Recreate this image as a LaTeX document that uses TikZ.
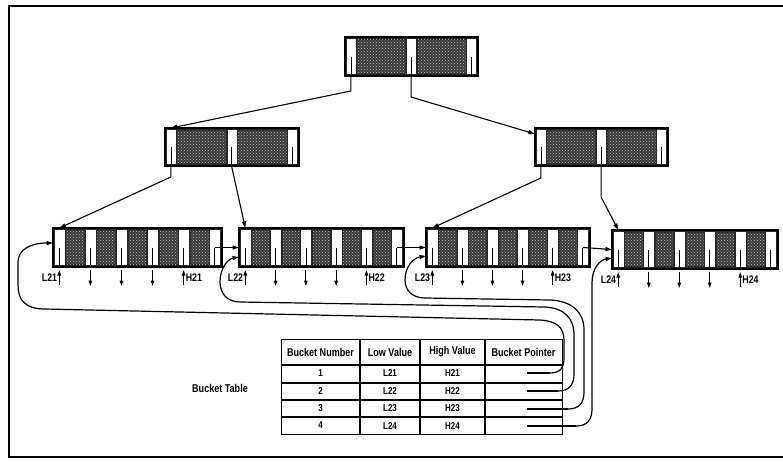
\documentclass[tikz,border=0pt]{standalone}
\usepackage{fontspec}
\newfontfamily\cf[FakeStretch=0.8]{Liberation Sans}
\usetikzlibrary{arrows.meta,patterns}

\tikzset{
  boxframe/.style={draw=black, fill=black!85, line width=1.4pt, inner sep=0pt, outer sep=0pt},
  slotfill/.style={fill=white},
  cellfill/.style={fill=black!78, postaction={pattern=crosshatch dots, pattern color=white!75!black}},
  conn/.style={line width=1.1pt, -{Triangle[length=6.5pt,width=4pt]}},
  curv/.style={line width=1.2pt, -{Triangle[length=6.5pt,width=4pt]}},
  smallar/.style={line width=1pt, -{Triangle[length=5.5pt,width=3.5pt]}},
  lbl/.style={font=\cf\bfseries\fontsize{11}{12}\selectfont, inner sep=0.5pt},
  ttxt/.style={font=\cf\bfseries\fontsize{10}{11}\selectfont, inner sep=0pt},
  hdr/.style={font=\cf\bfseries\fontsize{11.3}{12}\selectfont, inner sep=0pt},
  ptrline/.style={line width=1.4pt},
}

\newcommand\bbox[7]{%
  \pgfmathsetmacro\bbc{(#4-3.6-(#6+1)*#7-3.2*#6)/#6}%
  \pgfmathsetmacro\bbper{#7+3.2+\bbc}%
  \node[boxframe, minimum width=#4pt, minimum height=#5pt, anchor=north west] (#1) at (#2,-#3) {};
  \foreach \i in {0,...,#6}{%
    \pgfmathsetmacro\bbsx{#2+1.8+\i*\bbper}%
    \fill[slotfill] (\bbsx,-#3-1.8) rectangle (\bbsx+#7,-#3-#5+1.8);
    \draw[line width=0.6pt] (\bbsx+0.45*#7,-#3-0.5*#5) -- (\bbsx+0.45*#7,-#3-#5+1.8);
    \coordinate (#1-p\i) at (\bbsx+0.45*#7,-#3-#5);
    \coordinate (#1-t\i) at (\bbsx+0.45*#7,-#3);
    \coordinate (#1-m\i) at (\bbsx+0.5*#7,-#3-0.5*#5);
  }%
  \foreach \i in {1,...,#6}{%
    \pgfmathsetmacro\bbcx{#2+1.8+(\i-1)*\bbper+#7+1.6}%
    \fill[cellfill] (\bbcx,-#3-2.6) rectangle (\bbcx+\bbc,-#3-#5+2.6);
  }%
}

\begin{document}
\begin{tikzpicture}[x=1pt,y=1pt]
\useasboundingbox (0,0) rectangle (783,-461);
% frame
\draw[line width=2pt] (783,-6) -- (9,-6) -- (9,-457) -- (783,-457);

% boxes
\bbox{root}{345}{37}{133}{39}{2}{9}
\bbox{midL}{165}{128}{134}{38}{2}{9}
\bbox{midR}{535}{128}{133}{38}{2}{9}
\bbox{leafA}{53}{228}{169}{39}{5}{10}
\bbox{leafB}{239}{228}{165}{39}{5}{10}
\bbox{leafC}{426}{228}{164}{39}{5}{10}
\bbox{leafD}{612}{230}{166}{39}{5}{10}

\coordinate (midRin) at (535,-134);

% tree connectors
\draw[conn] (root-p0) -- ++(0,-15) -- (midL-t0);
\draw[conn] (root-p1) -- ++(0,-21) -- (midRin);
\draw[conn] (midL-p0) -- ++(0,-11) -- (leafA-t0);
\draw[conn] (midL-p1) -- (leafB-t0);
\draw[conn] (midR-p0) -- ++(0,-12) -- (leafC-t0);
\draw[conn] (midR-p1) -- ++(0,-31) -- (leafD-t0);

% leaf links
\draw[conn] (leafA-m5) -- (leafB.west);
\draw[conn] (leafB-m5) -- (leafC.west);
\draw[conn] (leafC-m5) -- (leafD.west);

% arrows below leaves and labels
\foreach \lf/\n in {leafA/1,leafB/2,leafC/3,leafD/4}{
  \draw[smallar] ([yshift=-18pt]\lf-p0) -- ([yshift=-3pt]\lf-p0);
  \draw[smallar] ([yshift=-18pt]\lf-p4) -- ([yshift=-3pt]\lf-p4);
  \foreach \k in {1,2,3}{
    \draw[smallar] ([yshift=-3pt]\lf-p\k) -- ([yshift=-19pt]\lf-p\k);
  }
  \node[lbl, anchor=east, xshift=-1.5pt, yshift=-11pt] (\lf-L) at (\lf-p0) {L2\n};
  \node[lbl, anchor=west, xshift=1.5pt, yshift=-11pt] (\lf-H) at (\lf-p4) {H2\n};
}

% table
\node[draw, line width=1.3pt, minimum width=281pt, minimum height=95pt, anchor=north west, inner sep=0pt] (tbl) at (281,-339) {};
\draw[line width=1.3pt] (281,-365) -- (562,-365);
\draw[line width=1.1pt] (281,-383) -- (562,-383) (281,-400) -- (562,-400) (281,-417) -- (562,-417);
\draw[line width=1.1pt] (360,-339) -- (360,-434) (420,-339) -- (420,-434) (485,-339) -- (485,-434);

\node[hdr] (h1) at (320.5,-352) {Bucket Number};
\node[hdr] (h2) at (390,-352) {Low Value};
\node[hdr] (h3) at (452.5,-352) {High Value};
\node[hdr] (h4) at (523.5,-352) {Bucket Pointer};

\foreach \r/\yy in {1/373,2/391,3/408.5,4/425.5}{
  \node[ttxt] (n\r) at (320.5,-\yy) {\r};
  \node[ttxt] (lo\r) at (390,-\yy) {L2\r};
  \node[ttxt] (hi\r) at (452.5,-\yy) {H2\r};
}
\node[hdr] (btl) at (220,-388) {Bucket Table};

\coordinate (ptr1) at (527,-373);
\coordinate (ptr2) at (527,-391);
\coordinate (ptr3) at (527,-409);
\coordinate (ptr4) at (527,-426);
\coordinate (in1) at (53,-243);
\coordinate (in2) at (239,-257);
\coordinate (in3) at (426,-256);
\coordinate (in4) at (612,-258);

\draw[ptrline] (ptr1) -- (550,-373);
\draw[ptrline] (ptr2) -- (558,-391);
\draw[ptrline] (ptr3) -- (568,-409);
\draw[ptrline] (ptr4) -- (576,-426);

\draw[curv] (ptr1) -- (550,-373) .. controls (560,-373) and (564,-368) .. (564,-358) -- (564,-340)
  .. controls (564,-327) and (556,-321) .. (540,-320) -- (45,-309)
  .. controls (25,-309) and (18,-300) .. (18,-285) -- (18,-262)
  .. controls (18,-250) and (30,-243) .. (in1);
\draw[curv] (ptr2) -- (558,-391) .. controls (569,-391) and (574,-385) .. (574,-374) -- (574,-335)
  .. controls (574,-318) and (564,-308) .. (545,-307) -- (240,-302)
  .. controls (226,-302) and (220,-292) .. (220,-282)
  .. controls (220,-268) and (228,-259) .. (in2);
\draw[curv] (ptr3) -- (568,-409) .. controls (579,-409) and (584,-403) .. (584,-392) -- (584,-330)
  .. controls (584,-312) and (572,-301) .. (550,-300) -- (425,-298)
  .. controls (412,-298) and (405,-290) .. (405,-280)
  .. controls (405,-267) and (413,-258) .. (in3);
\draw[curv] (ptr4) -- (576,-426) .. controls (587,-426) and (592,-420) .. (592,-409) -- (592,-283)
  .. controls (592,-268) and (600,-260) .. (in4);
\end{tikzpicture}
\end{document}
